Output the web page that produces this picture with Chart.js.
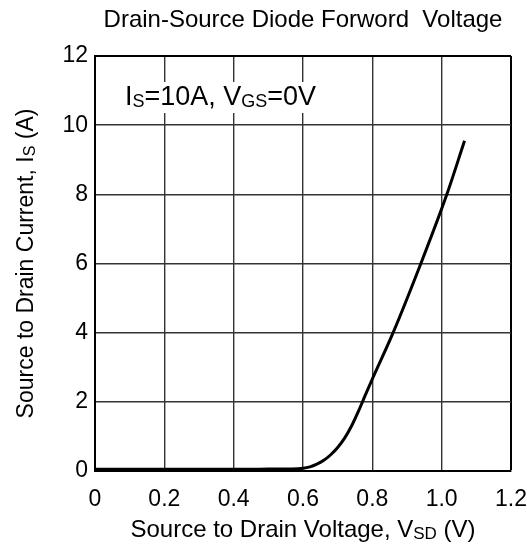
<!DOCTYPE html>
<html><head><meta charset="utf-8">
<script src="https://cdn.jsdelivr.net/npm/chart.js@4.4.1/dist/chart.umd.min.js"></script>
<style>html,body{margin:0;padding:0;background:#fff;}#wrap{width:527px;height:548px;position:relative;}</style>
</head><body><div id="wrap"><canvas id="c" width="527" height="548"></canvas></div>
<script>
// Data
const voltage = [0, 0.1, 0.2, 0.3, 0.4, 0.5, 0.56, 0.6, 0.62, 0.64, 0.66, 0.68, 0.70, 0.72, 0.74, 0.76, 0.78, 0.8, 0.86, 0.94, 1.015, 1.066];
const current = [0.05, 0.05, 0.05, 0.05, 0.05, 0.055, 0.06, 0.08, 0.12, 0.2, 0.31, 0.47, 0.68, 0.95, 1.3, 1.73, 2.2, 2.66, 4.0, 6.0, 8.0, 9.55];
const xTicks = [0, 0.2, 0.4, 0.6, 0.8, 1.0, 1.2];
const yTicks = [0, 2, 4, 6, 8, 10, 12];
const chartTitle = 'Drain-Source Diode Forword  Voltage';
const xTitleRuns = [['Source to Drain Voltage, V', false], ['SD', true], [' (V)', false]];
const yTitleRuns = [['Source to Drain Current, I', false], ['S', true], [' (A)', false]];
const noteRuns = [['I', false], ['S', true], ['=10A, V', false], ['GS', true], ['=0V', false]];

const FONT = "'Liberation Sans', Arial, sans-serif";

function drawRuns(ctx, runs, x, y, size, subSize, align) {
  let total = 0;
  const widths = runs.map(([t, sub]) => {
    ctx.font = (sub ? subSize : size) + 'px ' + FONT;
    const w = ctx.measureText(t).width; total += w; return w;
  });
  let cx = align === 'center' ? x - total / 2 : (align === 'right' ? x - total : x);
  ctx.textAlign = 'left';
  ctx.textBaseline = 'alphabetic';
  runs.forEach(([t, sub], i) => {
    ctx.font = (sub ? subSize : size) + 'px ' + FONT;
    ctx.fillText(t, cx, y + (sub ? 2 : 0));
    cx += widths[i];
  });
  return total;
}

const textPlugin = {
  id: 'texts',
  afterDatasetsDraw(chart) {
    const ctx = chart.ctx, a = chart.chartArea;
    ctx.save();
    ctx.fillStyle = '#000';
    ctx.font = '24px ' + FONT;
    ctx.textAlign = 'center';
    ctx.textBaseline = 'alphabetic';
    ctx.fillText(chartTitle, (a.left + a.right) / 2, 27);
    drawRuns(ctx, xTitleRuns, (a.left + a.right) / 2, 537, 24, 17, 'center');
    ctx.save();
    ctx.translate(33, (a.top + a.bottom) / 2);
    ctx.rotate(-Math.PI / 2);
    drawRuns(ctx, yTitleRuns, 0, 0, 23, 16, 'center');
    ctx.restore();
    ctx.fillStyle = '#fff';
    ctx.fillRect(118, 82, 206, 31);
    ctx.fillStyle = '#000';
    drawRuns(ctx, noteRuns, 125, 105, 27, 18, 'left');
    ctx.restore();
  }
};

const isEdge = (c) => c.tick && (c.tick.value === 12 || Math.abs(c.tick.value - 1.2) < 1e-9);
const gridColor = (c) => isEdge(c) ? '#000' : '#333';
const gridWidth = (c) => isEdge(c) ? 2 : 1.4;

new Chart(document.getElementById('c'), {
  type: 'line',
  data: {
    datasets: [{
      data: voltage.map((v, i) => ({ x: v, y: current[i] })),
      borderColor: '#000',
      borderWidth: 3,
      pointRadius: 0,
      cubicInterpolationMode: 'monotone',
      fill: false
    }]
  },
  options: {
    responsive: false,
    animation: false,
    devicePixelRatio: 1,
    layout: { padding: { top: 56, right: 16, bottom: 0, left: 0 } },
    plugins: { legend: { display: false }, title: { display: false }, tooltip: { enabled: false } },
    scales: {
      x: {
        type: 'linear', min: 0, max: 1.2,
        afterBuildTicks: (s) => { s.ticks = xTicks.map(v => ({ value: v })); },
        afterFit: (s) => { s.height = 77; s.paddingLeft = 0; s.paddingRight = 0; },
        grid: { color: gridColor, lineWidth: gridWidth, drawTicks: false },
        border: { color: '#000', width: 2 },
        ticks: {
          padding: 15, color: '#000', font: { family: FONT, size: 23 },
          callback: (v) => v === 0 ? '0' : Number(v).toFixed(1)
        }
      },
      y: {
        type: 'linear', min: 0, max: 12,
        afterBuildTicks: (s) => { s.ticks = yTicks.map(v => ({ value: v })); },
        afterFit: (s) => { s.width = 95; s.paddingTop = 0; s.paddingBottom = 0; },
        grid: { color: gridColor, lineWidth: gridWidth, drawTicks: false },
        border: { color: '#000', width: 2 },
        ticks: { padding: 7, color: '#000', font: { family: FONT, size: 23 } }
      }
    }
  },
  plugins: [textPlugin]
});
</script></body></html>
